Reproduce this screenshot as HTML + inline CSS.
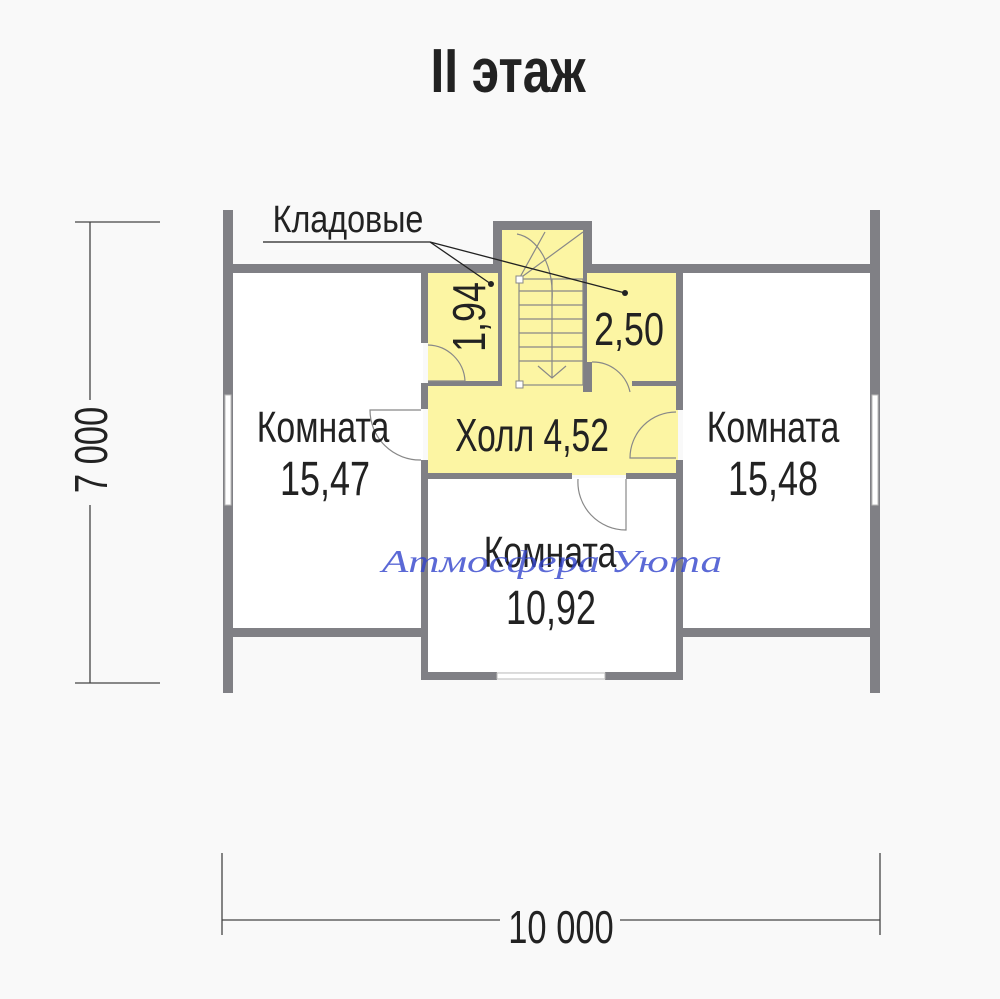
<!DOCTYPE html>
<html><head><meta charset="utf-8"><style>
html,body{margin:0;padding:0;background:#f9f9f9;}
svg{display:block}
text{font-family:"Liberation Sans Narrow","Liberation Sans",sans-serif;fill:#222}
</style></head><body>
<svg width="1000" height="999" viewBox="0 0 1000 999" xmlns="http://www.w3.org/2000/svg">
<rect width="1000" height="999" fill="#f9f9f9"/>
<text transform="translate(508,92) scale(0.8,1)" font-size="62" font-weight="bold" text-anchor="middle" fill="#1a1a1a">II этаж</text>
<rect x="233" y="273" width="190" height="355" fill="#fff"/>
<rect x="683" y="273" width="190" height="355" fill="#fff"/>
<rect x="428" y="478" width="250" height="194" fill="#fff"/>
<rect x="428" y="273" width="250" height="202" fill="#fcf5a3"/>
<rect x="500" y="230" width="85" height="45" fill="#fcf5a3"/>
<g fill="#808085">
<rect x="223" y="210" width="10" height="483"/>
<rect x="870" y="210" width="10" height="483"/>
<rect x="223" y="264" width="270" height="9"/>
<rect x="592" y="264" width="288" height="9"/>
<rect x="493" y="221" width="99" height="9"/>
<rect x="493" y="221" width="9" height="52"/>
<rect x="583" y="221" width="9" height="52"/>
<rect x="223" y="628" width="205" height="9"/>
<rect x="676" y="628" width="204" height="9"/>
<rect x="421" y="273" width="7" height="70"/>
<rect x="421" y="383" width="7" height="26"/>
<rect x="421" y="460" width="7" height="220"/>
<rect x="676" y="273" width="7" height="137"/>
<rect x="676" y="460" width="7" height="220"/>
<rect x="421" y="672" width="76" height="8"/>
<rect x="605" y="672" width="78" height="8"/>
<rect x="428" y="473" width="144" height="6"/>
<rect x="626" y="473" width="52" height="6"/>
<rect x="428" y="381" width="74" height="5"/>
<rect x="498" y="273" width="4" height="112"/>
<rect x="583" y="362" width="9" height="30"/>
<rect x="583" y="273" width="4" height="90"/>
<rect x="632" y="381" width="46" height="5"/>
</g>
<rect x="225" y="395" width="6" height="110" fill="#fff" stroke="#bbb" stroke-width="1"/>
<rect x="872" y="395" width="6" height="110" fill="#fff" stroke="#bbb" stroke-width="1"/>
<rect x="497" y="673" width="108" height="6" fill="#fff" stroke="#bbb" stroke-width="1"/>
<g fill="none" stroke="#888" stroke-width="1.2">
<path d="M428 345 A38 38 0 0 1 465 381 L428 381"/>
<path d="M421 410 L370 410 A50 50 0 0 0 421 460"/>
<path d="M592 362 A38 38 0 0 1 630 392"/>
<path d="M676 412 A46 46 0 0 0 630 458 L676 458"/>
<path d="M578 479 A48 48 0 0 0 626 530 L626 479"/>
<path d="M517 234 A40 60 0 0 1 552 300"/>
<path d="M519 279 L583 232"/><path d="M519 279 L545 232"/>
</g>
<g stroke="#888" stroke-width="1.2" fill="none">
<rect x="519" y="279" width="64" height="106"/>
<line x1="519" y1="291" x2="583" y2="291"/><line x1="519" y1="305" x2="583" y2="305"/>
<line x1="519" y1="319" x2="583" y2="319"/><line x1="519" y1="333" x2="583" y2="333"/>
<line x1="519" y1="347" x2="583" y2="347"/><line x1="519" y1="361" x2="583" y2="361"/>
<line x1="552" y1="279" x2="552" y2="378"/>
<polyline points="538,366 552,378 566,366"/>
</g>
<rect x="516" y="276" width="7" height="7" fill="#fff" stroke="#888"/>
<rect x="516" y="381" width="7" height="7" fill="#fff" stroke="#888"/>
<g stroke="#222" stroke-width="1.3" fill="none">
<polyline points="263,242 430,242 491,284"/>
<line x1="430" y1="242" x2="625" y2="293"/>
</g>
<circle cx="491" cy="284" r="3" fill="#222"/><circle cx="625" cy="293" r="3" fill="#222"/>
<text transform="translate(348,232) scale(0.85,1)" font-size="38" text-anchor="middle">Кладовые</text>
<text transform="translate(485,317) rotate(-90) scale(0.78,1)" font-size="46" text-anchor="middle">1,94</text>
<text transform="translate(629,345) scale(0.78,1)" font-size="46" text-anchor="middle">2,50</text>
<text transform="translate(532,451) scale(0.73,1)" font-size="46" text-anchor="middle">Холл 4,52</text>
<text transform="translate(323,442) scale(0.77,1)" font-size="44" text-anchor="middle">Комната</text>
<text transform="translate(325,495) scale(0.75,1)" font-size="48" text-anchor="middle">15,47</text>
<text transform="translate(773,442) scale(0.77,1)" font-size="44" text-anchor="middle">Комната</text>
<text transform="translate(773,495) scale(0.75,1)" font-size="48" text-anchor="middle">15,48</text>
<text transform="translate(550,567) scale(0.77,1)" font-size="44" text-anchor="middle">Комната</text>
<text transform="translate(551,624) scale(0.75,1)" font-size="48" text-anchor="middle">10,92</text>
<text transform="translate(552,572) scale(1.35,1)" font-size="32" font-style="italic" text-anchor="middle" style="font-family:'Liberation Serif',serif;fill:#3344cc" opacity="0.8">Атмосфера Уюта</text>
<g stroke="#444" stroke-width="1.3">
<line x1="90" y1="222" x2="90" y2="683"/>
<line x1="75" y1="222" x2="160" y2="222"/>
<line x1="75" y1="683" x2="160" y2="683"/>
<line x1="222" y1="920" x2="880" y2="920"/>
<line x1="222" y1="853" x2="222" y2="935"/>
<line x1="880" y1="853" x2="880" y2="935"/>
</g>
<rect x="75" y="400" width="40" height="105" fill="#f9f9f9"/>
<rect x="500" y="902" width="120" height="40" fill="#f9f9f9"/>
<text transform="translate(107,450) rotate(-90) scale(0.75,1)" font-size="46" text-anchor="middle">7 000</text>
<text transform="translate(561,943) scale(0.75,1)" font-size="46" text-anchor="middle">10 000</text>
</svg>
</body></html>
